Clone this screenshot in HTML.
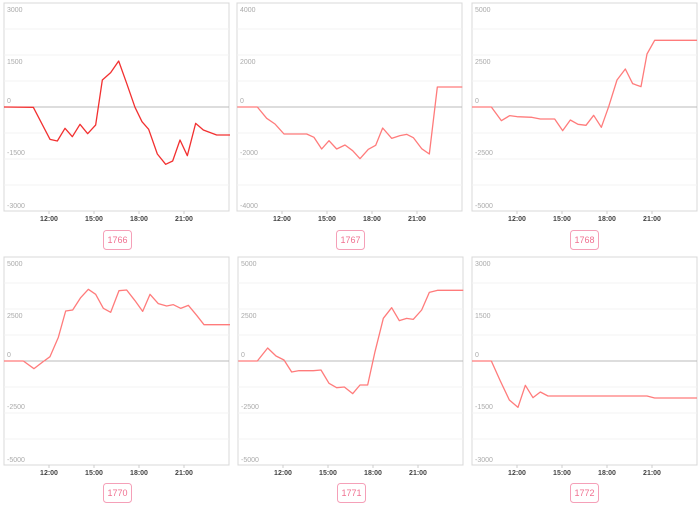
<!DOCTYPE html>
<html><head><meta charset="utf-8"><style>
body{margin:0;background:#fff;width:700px;height:508px;overflow:hidden}
svg{display:block}
.y{font:7px "Liberation Sans",sans-serif;fill:#aaa}
.x{font:bold 7px "Liberation Sans",sans-serif;fill:#444;text-anchor:middle}
.lb{font:9px "Liberation Sans",sans-serif;fill:#f07090;text-anchor:middle}
.ln{fill:none;stroke:#ff7b7b;stroke-width:1.3;vector-effect:non-scaling-stroke;stroke-linejoin:round}
</style></head><body>
<svg width="700" height="508" viewBox="0 0 700 508">
<defs>
<g id="grid">
<rect x="0" y="0" width="225" height="208" fill="none" stroke="#d8d8d8"/>
<g stroke="#f3f3f3"><line x1="0" x2="225" y1="26" y2="26"/><line x1="0" x2="225" y1="52" y2="52"/><line x1="0" x2="225" y1="78" y2="78"/><line x1="0" x2="225" y1="130" y2="130"/><line x1="0" x2="225" y1="156" y2="156"/><line x1="0" x2="225" y1="182" y2="182"/></g>
<line x1="0" x2="225" y1="104" y2="104" stroke="#bbb"/>
<g stroke="#ccc"><line x1="45" x2="45" y1="208" y2="211"/><line x1="90" x2="90" y1="208" y2="211"/><line x1="135" x2="135" y1="208" y2="211"/><line x1="180" x2="180" y1="208" y2="211"/></g>
<text class="x" x="45" y="218">12:00</text><text class="x" x="90" y="218">15:00</text><text class="x" x="135" y="218">18:00</text><text class="x" x="180" y="218">21:00</text>
</g>
</defs>

<!-- panel 1 -->
<g transform="translate(4,3)"><use href="#grid"/>
<text class="y" x="3" y="9">3000</text><text class="y" x="3" y="61">1500</text><text class="y" x="3" y="100">0</text><text class="y" x="3" y="152">-1500</text><text class="y" x="3" y="205">-3000</text></g>
<g transform="scale(0.33333)"><polyline class="ln" style="stroke:#f23030" points="12,321 100,322 150,418 172,423 195,385 217,410 240,373 263,401 287,375 307,240 332,218 356,183 380,250 405,322 426,365 446,388 472,462 497,493 518,483 540,420 562,467 587,370 610,390 650,405 690,405"/></g>
<rect x="103.5" y="230.5" width="28" height="19" rx="3" fill="#fff" stroke="#f5a0b8"/><text class="lb" x="117.5" y="243">1766</text>

<!-- panel 2 -->
<g transform="translate(237,3)"><use href="#grid"/>
<text class="y" x="3" y="9">4000</text><text class="y" x="3" y="61">2000</text><text class="y" x="3" y="100">0</text><text class="y" x="3" y="152">-2000</text><text class="y" x="3" y="205">-4000</text></g>
<g transform="translate(230,0) scale(0.33333)"><polyline class="ln" points="22,321 82,321 110,355 135,372 162,402 230,402 252,412 275,447 297,422 320,447 345,435 368,452 390,476 415,448 437,436 458,384 485,415 510,407 530,403 550,413 575,446 598,462 622,261 697,261"/></g>
<rect x="336.5" y="230.5" width="28" height="19" rx="3" fill="#fff" stroke="#f5a0b8"/><text class="lb" x="350.5" y="243">1767</text>

<!-- panel 3 -->
<g transform="translate(472,3)"><use href="#grid"/>
<text class="y" x="3" y="9">5000</text><text class="y" x="3" y="61">2500</text><text class="y" x="3" y="100">0</text><text class="y" x="3" y="152">-2500</text><text class="y" x="3" y="205">-5000</text></g>
<g transform="translate(462,0) scale(0.33333)"><polyline class="ln" points="30,321 88,321 118,362 143,347 165,350 210,352 235,357 278,357 302,392 325,360 348,373 372,376 395,346 418,382 440,320 465,240 490,207 512,251 537,260 555,162 578,121 705,121"/></g>
<rect x="570.5" y="230.5" width="28" height="19" rx="3" fill="#fff" stroke="#f5a0b8"/><text class="lb" x="584.5" y="243">1768</text>

<!-- panel 4 -->
<g transform="translate(4,257)"><use href="#grid"/>
<text class="y" x="3" y="9">5000</text><text class="y" x="3" y="61">2500</text><text class="y" x="3" y="100">0</text><text class="y" x="3" y="152">-2500</text><text class="y" x="3" y="205">-5000</text></g>
<g transform="translate(0,250) scale(0.33333)"><polyline class="ln" points="12,333 70,333 102,356 128,336 150,320 175,262 197,183 218,180 242,143 265,118 287,133 310,175 332,187 357,122 380,120 405,152 428,184 450,133 475,161 500,168 520,164 542,175 565,166 590,196 612,224 690,224"/></g>
<rect x="103.5" y="483.5" width="28" height="19" rx="3" fill="#fff" stroke="#f5a0b8"/><text class="lb" x="117.5" y="496">1770</text>

<!-- panel 5 -->
<g transform="translate(238,257)"><use href="#grid"/>
<text class="y" x="3" y="9">5000</text><text class="y" x="3" y="61">2500</text><text class="y" x="3" y="100">0</text><text class="y" x="3" y="152">-2500</text><text class="y" x="3" y="205">-5000</text></g>
<g transform="translate(230,250) scale(0.33333)"><polyline class="ln" points="25,333 82,333 113,294 138,318 162,330 185,366 207,362 250,362 273,360 297,400 320,413 343,411 368,431 390,405 413,405 435,305 460,205 485,173 508,212 530,205 550,208 575,180 598,127 622,121 700,121"/></g>
<rect x="337.5" y="483.5" width="28" height="19" rx="3" fill="#fff" stroke="#f5a0b8"/><text class="lb" x="351.5" y="496">1771</text>

<!-- panel 6 -->
<g transform="translate(472,257)"><use href="#grid"/>
<text class="y" x="3" y="9">3000</text><text class="y" x="3" y="61">1500</text><text class="y" x="3" y="100">0</text><text class="y" x="3" y="152">-1500</text><text class="y" x="3" y="205">-3000</text></g>
<g transform="translate(462,250) scale(0.33333)"><polyline class="ln" points="30,333 88,333 115,393 142,450 168,472 190,406 213,443 235,426 258,438 555,438 578,444 705,444"/></g>
<rect x="570.5" y="483.5" width="28" height="19" rx="3" fill="#fff" stroke="#f5a0b8"/><text class="lb" x="584.5" y="496">1772</text>
</svg>
</body></html>
